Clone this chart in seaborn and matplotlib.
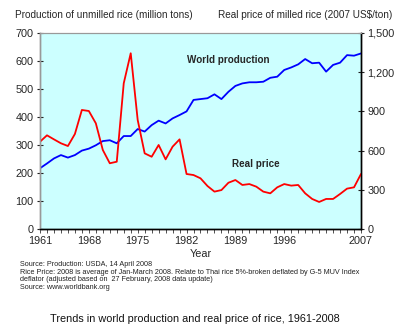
import matplotlib
matplotlib.use("Agg")
import matplotlib.pyplot as plt
import seaborn as sns
import pandas as pd
import numpy as np

years = list(range(1961, 2008))
production = [217, 234, 252, 264, 255, 264, 280, 287, 299, 314, 317, 306, 332, 332, 357,
              348, 371, 387, 377, 395, 407, 420, 461, 464, 467, 481, 464, 490, 511, 520,
              524, 524, 526, 540, 544, 568, 577, 588, 607, 592, 594, 562, 586, 594, 621,
              619, 627]
price = [668, 717, 686, 656, 635, 727, 911, 903, 809, 605, 503, 515, 1115, 1345, 834,
         579, 553, 643, 533, 630, 686, 421, 413, 388, 329, 286, 298, 354, 375, 337,
         344, 324, 286, 273, 319, 344, 332, 337, 273, 230, 207, 230, 230, 268, 309,
         319, 421]
xtick_years = [1961, 1968, 1975, 1982, 1989, 1996, 2007]
left_ticks = [0, 100, 200, 300, 400, 500, 600, 700]
right_ticks = [0, 300, 600, 900, 1200, 1500]

df = pd.DataFrame({"year": years, "production": production, "price": price})

sns.set_theme(style="white")
plt.rcParams["font.family"] = ["Liberation Sans", "DejaVu Sans"]

fig = plt.figure(figsize=(4.0, 3.35), dpi=100)
ax = fig.add_axes([0.100, 0.3164, 0.8025, 0.5851])
ax.set_facecolor("#CCFFFF")
ax2 = ax.twinx()

sns.lineplot(data=df, x="year", y="production", ax=ax, color="#0000FF", linewidth=1.3)
sns.lineplot(data=df, x="year", y="price", ax=ax2, color="#FF0000", linewidth=1.3)

ax.set_xlim(1961, 2007)
ax.set_ylim(0, 700)
ax2.set_ylim(0, 1500)
ax.set_xticks(xtick_years)
ax.set_xticks(years, minor=True)
ax.set_xticklabels([str(y) for y in xtick_years], fontsize=7.8)
ax.set_yticks(left_ticks)
ax.set_yticklabels([str(v) for v in left_ticks], fontsize=7.8)
ax2.set_yticks(right_ticks)
ax2.set_yticklabels([f"{v:,}" for v in right_ticks], fontsize=7.8)

ax.tick_params(axis="x", which="both", direction="out", length=3, width=0.6,
               color="#333333", pad=2, bottom=True)
ax.tick_params(axis="y", direction="inout", length=5, width=0.8, color="#222222",
               pad=2, left=True)
ax2.tick_params(axis="y", direction="inout", length=5, width=0.8, color="#222222",
                pad=2, right=True)

ax.set_xlabel("Year", fontsize=7.8, labelpad=2)
ax.set_ylabel("")
ax2.set_ylabel("")

for a in (ax, ax2):
    a.spines["top"].set_color("#999999")
    a.spines["top"].set_linewidth(0.8)
    a.spines["left"].set_color("#999999")
    a.spines["left"].set_linewidth(1.0)
    a.spines["bottom"].set_color("#000000")
    a.spines["bottom"].set_linewidth(1.0)
    a.spines["right"].set_color("#000000")
    a.spines["right"].set_linewidth(1.0)

fig.text(0.038, 0.955, "Production of unmilled rice (million tons)", fontsize=7.2,
         ha="left", va="center")
fig.text(0.98, 0.955, "Real price of milled rice (2007 US$/ton)", fontsize=7.2,
         ha="right", va="center")

ax.text(1982.1, 605, "World production", fontsize=7.1, fontweight="bold",
        ha="left", va="center")
ax.text(1988.5, 232, "Real price", fontsize=7.1, fontweight="bold",
        ha="left", va="center")

notes = ["Source: Production: USDA, 14 April 2008",
         "Rice Price: 2008 is average of Jan-March 2008. Relate to Thai rice 5%-broken deflated by G-5 MUV Index",
         "deflator (adjusted based on  27 February, 2008 data update)",
         "Source: www.worldbank.org"]
for i, line in enumerate(notes):
    fig.text(0.05, 1 - (265 + i * 7.4) / 335, line, fontsize=5.25, ha="left",
             va="center", color="#222222")

fig.text(0.4875, 1 - 319 / 335, "Trends in world production and real price of rice, 1961-2008",
         fontsize=7.8, ha="center", va="center", color="#111111")

fig.savefig("out.png", dpi=100)
